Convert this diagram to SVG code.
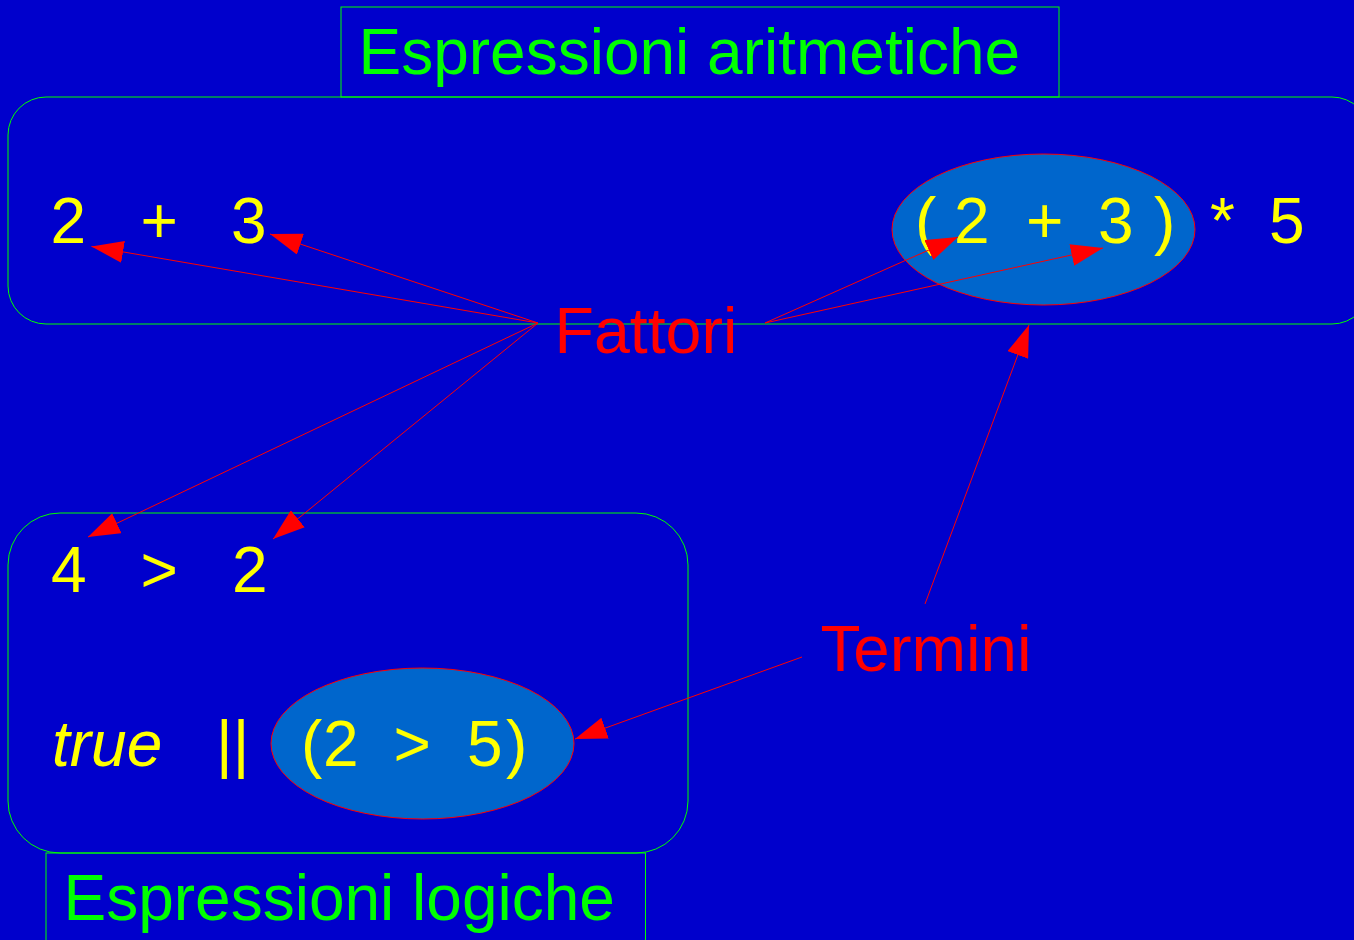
<svg xmlns="http://www.w3.org/2000/svg" width="1354" height="940" viewBox="0 0 1354 940">
<style>
.box{fill:none;stroke:#00FF00;stroke-width:1}
.ell{fill:#0066CC;stroke:#FF0000;stroke-width:1}
.t{font-family:"Liberation Sans",Arial,sans-serif;font-size:64px}
.y{fill:#FFFF00}
.g{fill:#00FF00}
.r{fill:#FF0000}
.c{stroke:#FF0000;stroke-width:1;fill:none;marker-end:url(#ah)}
</style>
<defs>
<marker id="ah" markerUnits="userSpaceOnUse" markerWidth="32" markerHeight="22" refX="32" refY="11" orient="auto">
<path d="M0,0 L32,11 L0,22 z" fill="#FF0000"/>
</marker>
</defs>
<rect x="0" y="0" width="1354" height="940" fill="#0000CC"/>
<g id="title-arit">
<rect class="box" x="341" y="7" width="718" height="90"/>
<text class="t g" x="358.5" y="74">Espressioni aritmetiche</text>
</g>
<g id="box-arit">
<rect class="box" x="8" y="97" width="1362" height="227" rx="38" ry="38"/>
</g>
<g id="expr-2plus3">
<text class="t y"><tspan x="50.5" y="243">2</tspan><tspan x="140.5" y="243">+</tspan><tspan x="231" y="243">3</tspan></text>
</g>
<g id="expr-paren">
<ellipse class="ell" cx="1043.5" cy="229.5" rx="151.5" ry="75.5"/>
<text class="t y"><tspan x="915" y="243">(</tspan><tspan x="954" y="243">2</tspan><tspan x="1026" y="243">+</tspan><tspan x="1098" y="243">3</tspan><tspan x="1154" y="243">)</tspan><tspan x="1210" y="243">*</tspan><tspan x="1269" y="243">5</tspan></text>
</g>
<g id="label-fattori">
<text class="t r" x="554.5" y="353" style="font-size:64.5px">Fattori</text>
</g>
<g id="box-log">
<rect class="box" x="8" y="513" width="680" height="340" rx="52" ry="52"/>
</g>
<g id="title-log">
<rect class="box" x="46" y="853" width="599.5" height="95"/>
<text class="t g" x="63.5" y="920">Espressioni logiche</text>
</g>
<g id="expr-4gt2">
<text class="t y"><tspan x="51" y="592">4</tspan><tspan x="140.5" y="592">&gt;</tspan><tspan x="232" y="592">2</tspan></text>
</g>
<g id="expr-or">
<ellipse class="ell" cx="422.5" cy="743.5" rx="151.5" ry="75.5"/>
<text class="t y" x="52" y="766" font-style="italic">true</text>
<text class="t y" x="216" y="766">||</text>
<text class="t y"><tspan x="301" y="766">(</tspan><tspan x="323" y="766">2</tspan><tspan x="393.5" y="766">&gt;</tspan><tspan x="467" y="766">5</tspan><tspan x="506" y="766">)</tspan></text>
</g>
<g id="label-termini">
<text class="t r" x="820.5" y="671" style="font-size:65.5px">Termini</text>
</g>
<g id="connectors">
<path class="c" d="M538,323 L91.5,246.5"/>
<path class="c" d="M538,323 L270,234"/>
<path class="c" d="M538,323 L88,537"/>
<path class="c" d="M538,323 L273,539"/>
<path class="c" d="M765,323 L958,237"/>
<path class="c" d="M765,323 L1103,248"/>
<path class="c" d="M925,604 L1029,325"/>
<path class="c" d="M802,657 L575,739"/>
</g>
</svg>
